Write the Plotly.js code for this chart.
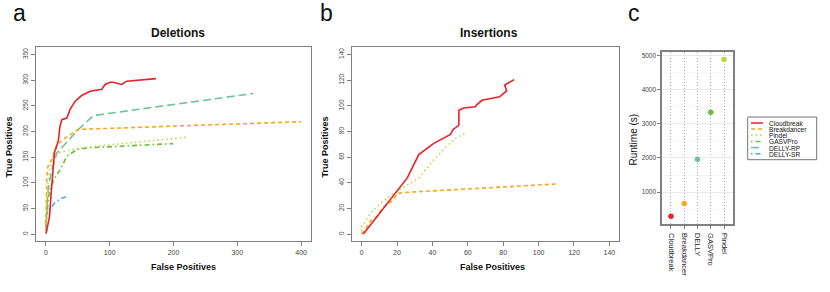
<!DOCTYPE html>
<html>
<head>
<meta charset="utf-8">
<script src="https://cdn.plot.ly/plotly-3.0.1.min.js"></script>
<style>html,body{margin:0;padding:0;background:#fff;}#chart{width:830px;height:292px;}</style>
</head>
<body>
<div id="chart"></div>
<script>
// ---------- Data ----------
// Deletions panel
var delCloudbreakX = [0.5, 3, 5.6, 8.3, 11, 13.5, 16, 19.8, 22, 25, 32.8, 38, 45.8, 56, 69.3, 78, 87.6, 92.8, 100.6, 105, 111, 118.9, 126.7, 134, 142, 150, 155.4, 163, 172.6];
var delCloudbreakY = [2, 15, 34, 80, 125.6, 160, 168, 184, 210, 223, 226, 243, 259, 270, 278.5, 280, 282, 291.6, 296, 296, 293.5, 291.6, 298, 299, 300, 300, 302, 303, 303];
var delBreakdancerX = [0, 0.5, 1.5, 2.6, 5, 9.3, 13, 17.2, 27.6, 40, 51, 400];
var delBreakdancerY = [5, 60, 110, 129, 138, 145, 160, 174, 185, 195, 204, 219];
var delPindelX = [0, 0.5, 1, 3, 6, 12, 27.6, 53.6, 100, 220.6];
var delPindelY = [10, 40, 73, 96, 125, 155, 161, 167.7, 174, 188.7];
var delGasvproX = [0, 2, 4, 8, 12, 22.4, 32.8, 48.4, 64, 199.7];
var delGasvproY = [15, 45, 73, 90, 106, 125.6, 151.6, 164.6, 168, 176.4];
var delDellyRpX = [0, 1, 3, 6, 9.3, 17.2, 51, 74.5, 325];
var delDellyRpY = [10, 40, 80, 105, 125.6, 158, 204, 231, 274];
var delDellySrX = [0, 0.5, 5.6, 13.5, 24, 34.4];
var delDellySrY = [0, 37.7, 47.5, 60.5, 70, 73.4];

// Insertions panel
var insCloudbreakX = [1, 25.8, 32.3, 40.8, 50.2, 51.7, 54.9, 55, 57.7, 64.3, 65.2, 68, 78, 82, 80.8, 81.5, 86.2];
var insCloudbreakY = [0, 43.8, 62, 70.7, 77.7, 81.6, 84.7, 96.5, 98.3, 99.3, 101, 104.3, 107, 111.8, 116.2, 116.8, 120.4];
var insBreakdancerX = [0, 2, 4.9, 8.8, 11.7, 18.2, 20, 23.7, 110.3];
var insBreakdancerY = [0, 3.4, 9.9, 13.8, 20.3, 26.9, 31.6, 32.4, 39.1];
var insPindelX = [0, 0, 2.3, 5, 10.7, 18.2, 24.8, 32.3, 40.8, 46.4, 52, 59.6];
var insPindelY = [2, 6, 10, 16.4, 24, 32, 37.3, 43.8, 58, 66, 73.8, 79.5];

// Runtime panel
var runtimeTools = ["Cloudbreak", "Breakdancer", "DELLY", "GASVPro", "Pindel"];
var runtimeSeconds = [297, 668, 1966, 3341, 4883];

// Legend
var legendNames = ["Cloudbreak", "Breakdancer", "Pindel", "GASVPro", "DELLY-RP", "DELLY-SR"];

// ---------- Styles ----------
var C = {
  Cloudbreak: "#EC2027", Breakdancer: "#FFA41B", Pindel: "#BCD744",
  GASVPro: "#6BBE3A", "DELLY-RP": "#6CC493", "DELLY-SR": "#4FA4DF", DELLY: "#6CC493"
};
var D = {
  Cloudbreak: "solid", Breakdancer: "4px,3px", Pindel: "1.5px,3px",
  GASVPro: "1.5px,3px,5px,3px", "DELLY-RP": "8px,4px", "DELLY-SR": "1.5px,3px,5px,3px"
};
var FONT = "Liberation Sans, Arial, Helvetica, sans-serif";

function line(x, y, name, xa, ya) {
  return {x: x, y: y, type: "scatter", mode: "lines", xaxis: xa, yaxis: ya,
    line: {color: C[name], width: 1.6, dash: D[name]}, showlegend: false, hoverinfo: "skip"};
}

var traces = [
  line(delDellySrX, delDellySrY, "DELLY-SR", "x", "y"),
  line(delDellyRpX, delDellyRpY, "DELLY-RP", "x", "y"),
  line(delGasvproX, delGasvproY, "GASVPro", "x", "y"),
  line(delPindelX, delPindelY, "Pindel", "x", "y"),
  line(delBreakdancerX, delBreakdancerY, "Breakdancer", "x", "y"),
  line(delCloudbreakX, delCloudbreakY, "Cloudbreak", "x", "y"),
  line(insPindelX, insPindelY, "Pindel", "x2", "y2"),
  line(insBreakdancerX, insBreakdancerY, "Breakdancer", "x2", "y2"),
  line(insCloudbreakX, insCloudbreakY, "Cloudbreak", "x2", "y2"),
  {x: runtimeTools.map(function(t, i){ return i + 1; }), y: runtimeSeconds, type: "scatter", mode: "markers",
   xaxis: "x3", yaxis: "y3", showlegend: false, hoverinfo: "skip",
   marker: {size: 5.5, color: runtimeTools.map(function(t){ return C[t]; })}}
];

var W = 830, H = 292;
function px(x){ return x / W; }
function py(y){ return 1 - y / H; }

var frame = "#808080";
function baseAxis(extra) {
  var a = {showgrid: false, zeroline: false, showline: true, mirror: true, linecolor: frame, linewidth: 1,
    ticks: "outside", ticklen: 4, tickcolor: frame, tickwidth: 1,
    tickfont: {family: FONT, size: 6.5, color: "#444"}, fixedrange: true};
  for (var k in extra) a[k] = extra[k];
  return a;
}

var annotations = [];
function txt(x, y, s, size, bold, extra) {
  var a = {xref: "paper", yref: "paper", x: px(x), y: py(y), text: bold ? "<b>" + s + "</b>" : s,
    showarrow: false, xanchor: "center", yanchor: "middle",
    font: {family: FONT, size: size, color: "#111"}};
  for (var k in extra) a[k] = extra[k];
  annotations.push(a);
}
txt(19, 13, "a", 23, false);
txt(326, 13, "b", 23, false);
txt(634, 13, "c", 23, false);
txt(177.5, 33.5, "Deletions", 12, true);
txt(489, 33.5, "Insertions", 12, true);
txt(183, 267, "False Positives", 9, true);
txt(492, 267, "False Positives", 9, true);
txt(8.5, 147, "True Positives", 9, true, {textangle: -90});
txt(324.5, 147, "True Positives", 9, true, {textangle: -90});
txt(633.5, 140, "Runtime (s)", 10, false, {textangle: -90});

var shapes = [];
// Legend box
shapes.push({type: "rect", xref: "paper", yref: "paper", x0: px(747.7), x1: px(816.7), y0: py(117), y1: py(159.7),
  line: {color: "#777", width: 1}, fillcolor: "rgba(0,0,0,0)"});
var rowY = [123, 129.1, 135.2, 141.4, 147.6, 153.7];
legendNames.forEach(function(n, i) {
  shapes.push({type: "line", xref: "paper", yref: "paper", x0: px(751), x1: px(763), y0: py(rowY[i]), y1: py(rowY[i]),
    line: {color: C[n], width: 1.5, dash: D[n]}});
  txt(767.5, rowY[i], n, 6.6, false, {xanchor: "left", height: 6, borderpad: 0});
});

var layout = {
  width: W, height: H, margin: {l: 0, r: 0, t: 0, b: 0},
  paper_bgcolor: "#fff", plot_bgcolor: "#fff", showlegend: false,
  xaxis: baseAxis({domain: [px(35.7), px(311.3)], range: [-16, 416], tickvals: [0, 100, 200, 300, 400], anchor: "y", tickfont: {family: FONT, size: 7, color: "#444"}}),
  yaxis: baseAxis({domain: [py(241.3), py(47.3)], range: [-14, 364], tickvals: [0, 50, 100, 150, 200, 250, 300, 350], anchor: "x", tickangle: -90}),
  xaxis2: baseAxis({domain: [px(351.7), px(619.3)], range: [-5.6, 145.6], tickvals: [0, 20, 40, 60, 80, 100, 120, 140], anchor: "y2", tickfont: {family: FONT, size: 7, color: "#444"}}),
  yaxis2: baseAxis({domain: [py(241.3), py(47.3)], range: [-5.6, 145.6], tickvals: [0, 20, 40, 60, 80, 100, 120, 140], anchor: "x2", tickangle: -90}),
  xaxis3: baseAxis({domain: [px(661.7), px(733.3)], range: [0.3, 5.7], tickvals: [1, 2, 3, 4, 5], ticktext: runtimeTools,
    anchor: "y3", tickangle: 90, ticklen: 3, ticklabelstandoff: 3, tickfont: {family: FONT, size: 7.5, color: "#222"},
    showgrid: true, gridcolor: "#9a9a9a", griddash: "1px,2px", gridwidth: 0.8, linewidth: 1.3}),
  yaxis3: baseAxis({domain: [py(224.3), py(51.7)], range: [60, 5110], tickvals: [1000, 2000, 3000, 4000, 5000], anchor: "x3",
    ticklen: 3, showgrid: true, gridcolor: "#e6e6e6", gridwidth: 0.8, linewidth: 1.3,
    minor: {tickvals: [500, 1500, 2500, 3500, 4500], showgrid: true, gridcolor: "#f3f3f3", gridwidth: 0.6, ticks: ""},
    tickfont: {family: FONT, size: 6.5, color: "#444"}}),
  annotations: annotations,
  shapes: shapes
};

Plotly.newPlot("chart", traces, layout, {staticPlot: true, displayModeBar: false});
</script>
</body>
</html>
